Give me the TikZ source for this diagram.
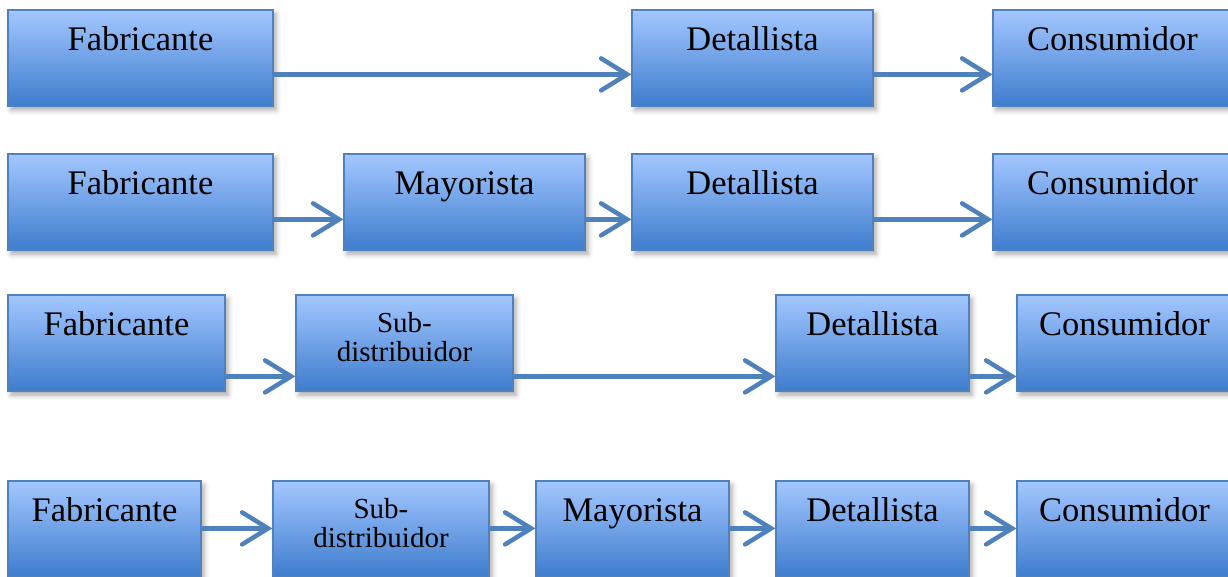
\documentclass[tikz,border=0pt]{standalone}
\usepackage{fontspec}
\setmainfont{Liberation Serif}
\usetikzlibrary{arrows.meta,shadows.blur}
\definecolor{boxtop}{RGB}{163,199,255}
\definecolor{boxmid}{RGB}{118,164,234}
\definecolor{boxbot}{RGB}{62,124,205}
\definecolor{boxline}{RGB}{79,129,189}
\definecolor{arrcol}{RGB}{79,129,189}
\tikzset{
  box/.style={draw=boxline, line width=1.2pt, top color=boxtop, middle color=boxmid, bottom color=boxbot,
    minimum height=96pt, inner sep=0pt,
    blur shadow={shadow xshift=3pt, shadow yshift=-4pt, shadow blur radius=5pt, shadow opacity=35}},
  bigtxt/.style={font=\fontsize{34.5}{37}\selectfont, inner sep=0pt},
  smalltxt/.style={font=\fontsize{29}{32}\selectfont, inner sep=0pt},
  lbl/.style={label={[bigtxt,anchor=base,yshift=-41pt]north:#1}},
  sublbl/.style={label={[smalltxt,anchor=base,yshift=-38pt]north:Sub-},
                 label={[smalltxt,anchor=base,yshift=-67pt]north:distribuidor}},
  arr/.style={draw=arrcol, line width=4.5pt, -{Straight Barb[length=26pt, width=32pt, line cap=round]}}
}
\begin{document}
\begin{tikzpicture}[x=1pt,y=-1pt]
\useasboundingbox (0,0) rectangle (1228,577);
% Row 1
\node[box, lbl=Fabricante, minimum width=265pt] (f1) at (140.5,58) {};
\node[box, lbl=Detallista, minimum width=241pt] (d1) at (752.5,58) {};
\node[box, lbl=Consumidor, minimum width=239pt] (c1) at (1112.5,58) {};
% Row 2
\node[box, lbl=Fabricante, minimum width=265pt] (f2) at (140.5,202) {};
\node[box, lbl=Mayorista, minimum width=241pt] (m2) at (464.5,202) {};
\node[box, lbl=Detallista, minimum width=241pt] (d2) at (752.5,202) {};
\node[box, lbl=Consumidor, minimum width=239pt] (c2) at (1112.5,202) {};
% Row 3
\node[box, lbl=Fabricante, minimum width=217pt] (f3) at (116.5,343) {};
\node[box, sublbl, minimum width=217pt] (s3) at (404.5,343) {};
\node[box, lbl=Detallista, minimum width=193pt] (d3) at (872.5,343) {};
\node[box, lbl=Consumidor, minimum width=215pt] (c3) at (1124.5,343) {};
% Row 4
\node[box, lbl=Fabricante, minimum width=193pt] (f4) at (104.5,529) {};
\node[box, sublbl, minimum width=216pt] (s4) at (381,529) {};
\node[box, lbl=Mayorista, minimum width=193pt] (m4) at (632.5,529) {};
\node[box, lbl=Detallista, minimum width=193pt] (d4) at (872.5,529) {};
\node[box, lbl=Consumidor, minimum width=215pt] (c4) at (1124.5,529) {};
% Arrows
\draw[arr] ([yshift=-65pt]f1.north east) -- ([yshift=-65pt]d1.north west);
\draw[arr] ([yshift=-65pt]d1.north east) -- ([yshift=-65pt]c1.north west);
\draw[arr] ([yshift=-66pt]f2.north east) -- ([yshift=-66pt]m2.north west);
\draw[arr] ([yshift=-66pt]m2.north east) -- ([yshift=-66pt]d2.north west);
\draw[arr] ([yshift=-66pt]d2.north east) -- ([yshift=-66pt]c2.north west);
\draw[arr] ([yshift=-82pt]f3.north east) -- ([yshift=-82pt]s3.north west);
\draw[arr] ([yshift=-82pt]s3.north east) -- ([yshift=-82pt]d3.north west);
\draw[arr] ([yshift=-82pt]d3.north east) -- ([yshift=-82pt]c3.north west);
\draw[arr] ([yshift=-48pt]f4.north east) -- ([yshift=-48pt]s4.north west);
\draw[arr] ([yshift=-48pt]s4.north east) -- ([yshift=-48pt]m4.north west);
\draw[arr] ([yshift=-48pt]m4.north east) -- ([yshift=-48pt]d4.north west);
\draw[arr] ([yshift=-48pt]d4.north east) -- ([yshift=-48pt]c4.north west);
\end{tikzpicture}
\end{document}
